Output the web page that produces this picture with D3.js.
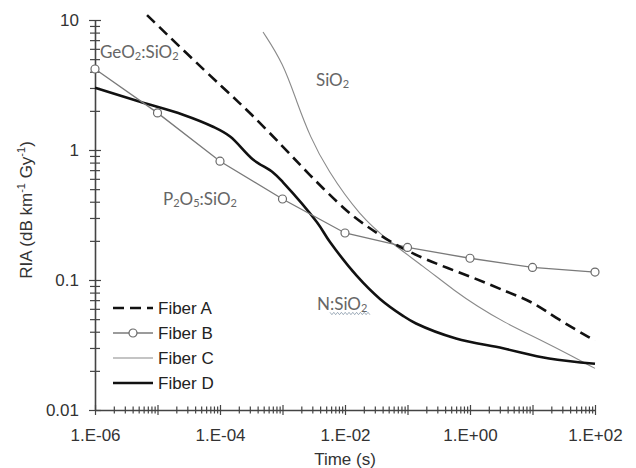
<!DOCTYPE html>
<html>
<head>
<meta charset="utf-8">
<script src="https://cdn.jsdelivr.net/npm/d3@7"></script>
<style>
  body { margin: 0; background: #fff; }
  svg { display: block; }
</style>
</head>
<body>
<div id="chart"></div>
<script>
// data (time in s, RIA in dB/km/Gy)
const fiberA = [[6.8e-6, 10.9], [2.86e-5, 5.59], [1.16e-4, 2.96], [3.02e-4, 1.94], [1.02e-3, 1.06],
                [2.47e-3, 0.672], [1.08e-2, 0.332], [2.25e-2, 0.259], [5.25e-2, 0.196], [0.177, 0.145],
                [1.29, 0.102], [3.91, 0.0809], [10.2, 0.0678], [24.7, 0.0502], [100, 0.0341]];
const fiberBTime  = [1e-6, 1e-5, 1e-4, 1e-3, 1e-2, 1e-1, 1, 10, 100];
const fiberBValue = [4.2, 1.93, 0.82, 0.42, 0.23, 0.178, 0.147, 0.125, 0.115];
const fiberC = [[4.88e-4, 8.09], [1.02e-3, 4.68], [1.71e-3, 2.31], [2.75e-3, 1.27], [5.15e-3, 0.709],
                [1.74e-2, 0.309], [5.25e-2, 0.196], [0.177, 0.128], [0.597, 0.0809], [1.29, 0.0632],
                [3.37, 0.0477], [13.2, 0.0347], [44.5, 0.0257], [100, 0.0209]];
const fiberD = [[1e-6, 3.01], [5.25e-6, 2.35], [2.56e-5, 1.87], [7.73e-5, 1.51], [1.45e-4, 1.27],
                [3.37e-4, 0.845], [7.05e-4, 0.672], [1.02e-3, 0.564], [3.56e-3, 0.278], [5.75e-3, 0.196],
                [1.56e-2, 0.107], [3.63e-2, 0.0715], [8.47e-2, 0.053], [0.137, 0.0463], [0.597, 0.0355],
                [3.37, 0.0298], [18.4, 0.0249], [100, 0.0227]];
const xTickLabels = ["1.E-06", "1.E-04", "1.E-02", "1.E+00", "1.E+02"];
const xTickValues = [1e-6, 1e-4, 1e-2, 1, 100];
const yTickValues = [0.01, 0.1, 1, 10];
const legendNames = ["Fiber A", "Fiber B", "Fiber C", "Fiber D"];

const W = 636, H = 468;
const mLeft = 95, mRight = 595, mTop = 20, mBottom = 410;

const svg = d3.select("#chart").append("svg")
    .attr("width", W).attr("height", H);

const x = d3.scaleLog().domain([1e-6, 100]).range([mLeft, mRight]);
const y = d3.scaleLog().domain([0.01, 10]).range([mBottom, mTop]);

// minor ticks (2..9 in each decade)
function minors(lo, hi) {
    let out = [];
    for (let e = lo; e < hi; e++) {
        for (let k = 2; k <= 9; k++) out.push(k * Math.pow(10, e));
    }
    return out;
}
const xMinor = minors(-6, 2);
const yMinor = minors(-2, 1);
const xMajor = d3.range(-6, 3).map(e => Math.pow(10, e));

const axisColor = "#444";
const font = "Liberation Sans, Arial, sans-serif";

// ticks cross the axis line, so each axis is drawn on both sides
function styleAxis(g) {
    g.select(".domain").attr("stroke", axisColor).attr("stroke-width", 1.6);
    g.selectAll(".tick line").attr("stroke", axisColor).attr("stroke-width", 1.2);
    g.selectAll("text").attr("font-family", font).attr("font-size", 17).attr("fill", "#333");
}
svg.append("g").attr("transform", "translate(0," + mBottom + ")")
    .call(d3.axisBottom(x).tickValues(xMinor).tickSize(3.5).tickFormat("").tickSizeOuter(0))
    .call(styleAxis);
svg.append("g").attr("transform", "translate(0," + mBottom + ")")
    .call(d3.axisTop(x).tickValues(xMinor).tickSize(3.5).tickFormat(""))
    .call(g => g.select(".domain").remove())
    .call(styleAxis);
svg.append("g").attr("transform", "translate(0," + mBottom + ")")
    .call(d3.axisBottom(x).tickValues(xMajor).tickSize(5).tickFormat(""))
    .call(g => g.select(".domain").remove())
    .call(styleAxis);
svg.append("g").attr("transform", "translate(0," + mBottom + ")")
    .call(d3.axisTop(x).tickValues(xMajor).tickSize(5).tickFormat(""))
    .call(g => g.select(".domain").remove())
    .call(styleAxis);
svg.append("g").attr("transform", "translate(0," + mBottom + ")")
    .call(d3.axisBottom(x).tickValues(xTickValues).tickSize(0).tickPadding(19)
        .tickFormat((d, i) => xTickLabels[i]))
    .call(g => g.select(".domain").remove())
    .call(styleAxis);

// y axis
svg.append("g").attr("transform", "translate(" + mLeft + ",0)")
    .call(d3.axisLeft(y).tickValues(yMinor).tickSize(5).tickFormat("").tickSizeOuter(0))
    .call(styleAxis);
svg.append("g").attr("transform", "translate(" + mLeft + ",0)")
    .call(d3.axisRight(y).tickValues(yMinor).tickSize(5).tickFormat(""))
    .call(g => g.select(".domain").remove())
    .call(styleAxis);
svg.append("g").attr("transform", "translate(" + mLeft + ",0)")
    .call(d3.axisRight(y).tickValues(yTickValues).tickSize(6).tickFormat(""))
    .call(g => g.select(".domain").remove())
    .call(styleAxis);
svg.append("g").attr("transform", "translate(" + mLeft + ",0)")
    .call(d3.axisLeft(y).tickValues(yTickValues).tickSize(6).tickPadding(10)
        .tickFormat(d => String(d)))
    .call(g => g.select(".domain").remove())
    .call(styleAxis);

// axis titles
svg.append("text")
    .attr("x", (mLeft + mRight) / 2).attr("y", 465)
    .attr("text-anchor", "middle")
    .attr("font-family", font).attr("font-size", 17).attr("fill", "#333")
    .text("Time (s)");

const yt = svg.append("text")
    .attr("transform", "translate(32,210) rotate(-90)")
    .attr("text-anchor", "middle")
    .attr("font-family", font).attr("font-size", 17).attr("fill", "#333");
yt.append("tspan").text("RIA (dB km");
yt.append("tspan").attr("font-size", 11).attr("dy", -7).text("-1");
yt.append("tspan").attr("dy", 7).text(" Gy");
yt.append("tspan").attr("font-size", 11).attr("dy", -7).text("-1");
yt.append("tspan").attr("dy", 7).text(")");

// lines
const smooth = d3.line()
    .x(d => x(d[0]))
    .y(d => y(d[1]))
    .curve(d3.curveBasis);
const line = d3.line()
    .x(d => x(d[0]))
    .y(d => y(d[1]))
    .curve(d3.curveCatmullRom.alpha(0.5));

svg.append("path").datum(fiberC)
    .attr("fill", "none").attr("stroke", "#8a8a8a").attr("stroke-width", 1.1)
    .attr("d", smooth);

svg.append("path").datum(fiberD)
    .attr("fill", "none").attr("stroke", "#111").attr("stroke-width", 2.6)
    .attr("d", line);

const fiberB = fiberBTime.map((t, i) => [t, fiberBValue[i]]);
svg.append("path").datum(fiberB)
    .attr("fill", "none").attr("stroke", "#7a7a7a").attr("stroke-width", 1.3)
    .attr("d", d3.line().x(d => x(d[0])).y(d => y(d[1])));

svg.append("path").datum(fiberA)
    .attr("fill", "none").attr("stroke", "#111").attr("stroke-width", 2.6)
    .attr("stroke-dasharray", "11,6")
    .attr("d", smooth);

svg.selectAll("circle.b").data(fiberB).enter().append("circle")
    .attr("class", "b")
    .attr("cx", d => x(d[0])).attr("cy", d => y(d[1])).attr("r", 4)
    .attr("fill", "#fff").attr("stroke", "#6a6a6a").attr("stroke-width", 1.2);

// annotations
const noteFont = "Lato, 'Open Sans', sans-serif";
function note(px, py, parts) {
    const t = svg.append("text").attr("x", px).attr("y", py)
        .attr("font-family", noteFont).attr("font-size", 17).attr("fill", "#666");
    parts.forEach(p => {
        if (p.sub) t.append("tspan").attr("font-size", 11).attr("dy", 2).text(p.s);
        else t.append("tspan").attr("dy", p.after ? -2 : 0).text(p.s);
    });
    return t;
}
note(100, 58, [{s: "GeO"}, {s: "2", sub: true}, {s: ":SiO", after: true}, {s: "2", sub: true}]);
note(316, 86, [{s: "SiO"}, {s: "2", sub: true}]);
note(163, 205, [{s: "P"}, {s: "2", sub: true}, {s: "O", after: true}, {s: "5", sub: true},
                {s: ":SiO", after: true}, {s: "2", sub: true}]);
note(317, 310, [{s: "N:SiO"}, {s: "2", sub: true}]);

// spell-check squiggle under N:SiO2
const sq = d3.range(0, 22).map(i => [330 + i * 1.9, 313.5 + (i % 2 ? 1.2 : -1.2)]);
svg.append("path").datum(sq)
    .attr("fill", "none").attr("stroke", "#8899aa").attr("stroke-width", 0.8)
    .attr("d", d3.line());

// legend
const lg = svg.append("g").attr("transform", "translate(113,308)");
const rowH = 25;
legendNames.forEach((name, i) => {
    const row = lg.append("g").attr("transform", "translate(0," + (i * rowH) + ")");
    const ln = row.append("line").attr("x1", 0).attr("x2", 40).attr("y1", 0).attr("y2", 0);
    if (i === 0) ln.attr("stroke", "#111").attr("stroke-width", 2.4).attr("stroke-dasharray", "11,6");
    if (i === 1) ln.attr("stroke", "#7a7a7a").attr("stroke-width", 1.3);
    if (i === 2) ln.attr("stroke", "#8a8a8a").attr("stroke-width", 1.1);
    if (i === 3) ln.attr("stroke", "#111").attr("stroke-width", 2.4);
    if (i === 1) row.append("circle").attr("cx", 20).attr("cy", 0).attr("r", 4)
        .attr("fill", "#fff").attr("stroke", "#6a6a6a").attr("stroke-width", 1.2);
    row.append("text").attr("x", 45).attr("y", 6)
        .attr("font-family", font).attr("font-size", 17).attr("fill", "#222")
        .text(name);
});
</script>
</body>
</html>
